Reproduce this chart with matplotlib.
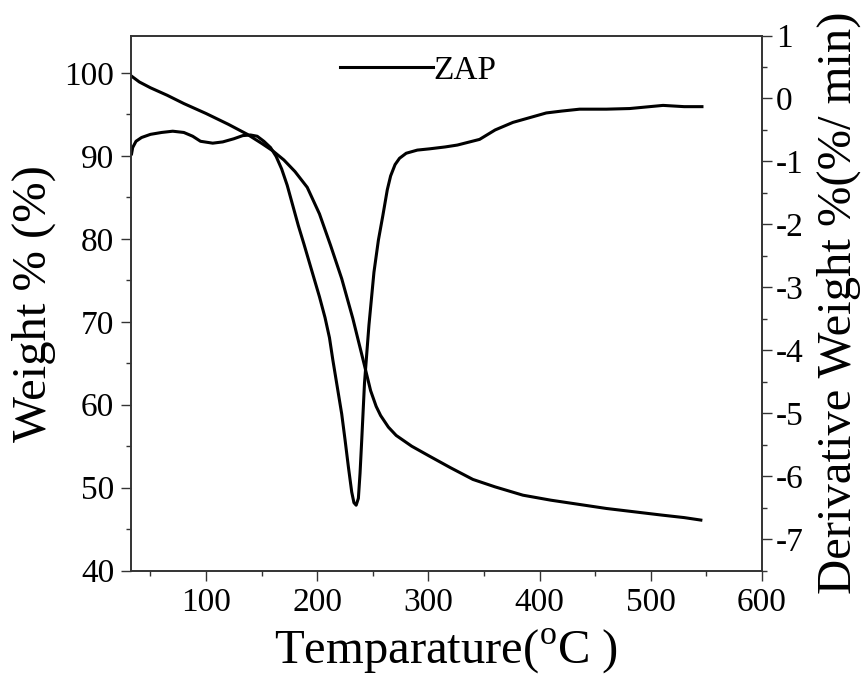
import matplotlib
matplotlib.use("Agg")
import matplotlib.pyplot as plt
from matplotlib.ticker import MultipleLocator

plt.rcParams['font.family'] = ['Liberation Serif', 'DejaVu Serif']
plt.rcParams['mathtext.fontset'] = 'custom'
plt.rcParams['mathtext.rm'] = 'Liberation Serif'
plt.rcParams['axes.unicode_minus'] = False

# TGA curve (left axis)
tga_temp = [33, 40, 50, 65, 80, 100, 120, 137, 150, 160, 170, 180, 191, 202, 212,
            222, 232, 242, 248, 253, 257, 264, 271, 285, 301, 320, 340, 360, 385, 410,
            435, 460, 485, 510, 530, 545]
tga_weight = [99.6, 98.9, 98.2, 97.3, 96.3, 95.1, 93.8, 92.6, 91.5, 90.6, 89.5, 88.1,
              86.2, 83.0, 79.2, 75.2, 70.4, 65.0, 61.7, 59.8, 58.7, 57.3, 56.3, 55.0,
              53.8, 52.4, 51.0, 50.1, 49.1, 48.5, 48.0, 47.5, 47.1, 46.7, 46.4, 46.1]

# DTG curve (right axis)
dtg_temp = [33, 34, 37, 42, 50, 60, 70, 80, 88, 95, 106, 115, 125, 133, 140, 146, 152,
            158, 163, 168, 173, 178, 183, 188, 192, 197, 202, 207, 211, 214, 218, 222,
            225, 228, 231, 233, 235, 237, 238.5, 240, 242.5, 246.5, 251, 255, 259, 263,
            266, 270, 274, 280, 290, 301, 315, 326, 346, 360, 376, 392, 406, 420, 436,
            460, 481, 511, 530, 546]
dtg_deriv = [-0.88, -0.78, -0.68, -0.62, -0.57, -0.54, -0.52, -0.54, -0.60, -0.68, -0.71,
             -0.69, -0.64, -0.59, -0.58, -0.60, -0.68, -0.78, -0.92, -1.12, -1.38, -1.70,
             -2.02, -2.31, -2.55, -2.85, -3.15, -3.48, -3.80, -4.15, -4.58, -5.01, -5.42,
             -5.85, -6.25, -6.42, -6.46, -6.35, -5.95, -5.43, -4.52, -3.60, -2.76, -2.25,
             -1.86, -1.45, -1.23, -1.05, -0.95, -0.87, -0.82, -0.80, -0.77, -0.74, -0.65,
             -0.50, -0.38, -0.30, -0.23, -0.20, -0.17, -0.17, -0.16, -0.11, -0.13, -0.13]

series_label = "ZAP"
x_ticks = [100, 200, 300, 400, 500, 600]
left_ticks = [40, 50, 60, 70, 80, 90, 100]
right_ticks = [-7, -6, -5, -4, -3, -2, -1, 0, 1]

fig = plt.figure(figsize=(8.64, 6.93), dpi=100)
ax = fig.add_axes([131/864, 1-570.7/693, (762-131)/864, (570.7-35.5)/693])
ax2 = ax.twinx()

ln1, = ax.plot(tga_temp, tga_weight, color='black', lw=2.2, label=series_label)
ax2.plot(dtg_temp, dtg_deriv, color='black', lw=2.2)

ax.set_xlim(32.5, 600)
ax.set_ylim(40, 104.5)
ax2.set_ylim(-7.5, 1)

ax.set_xticks(x_ticks)
ax.set_yticks(left_ticks)
ax2.set_yticks(right_ticks)
ax.xaxis.set_minor_locator(MultipleLocator(50))
ax.yaxis.set_minor_locator(MultipleLocator(5))
ax2.yaxis.set_minor_locator(MultipleLocator(0.5))

fs_tick = 24
ax.tick_params(axis='both', which='major', direction='out', length=7, width=1,
               labelsize=fs_tick, pad=5, color='#333333')
ax.tick_params(axis='both', which='minor', direction='out', length=3.5, width=1,
               color='#333333')
ax2.tick_params(axis='y', which='major', direction='out', length=7, width=1,
                labelsize=fs_tick, pad=3, color='#333333')
ax2.tick_params(axis='y', which='minor', direction='out', length=3.5, width=1,
                color='#333333')
ax.tick_params(axis='x', which='both', top=False)

for a in (ax, ax2):
    for s in a.spines.values():
        s.set_color('#333333')
        s.set_linewidth(1.2)

ax.set_xlabel(r'Temparature($^{\mathrm{o}}$C )', fontsize=35, labelpad=6)
ax.set_ylabel('Weight % (%)', fontsize=35, labelpad=6)
ax2.set_ylabel('Derivative Weight %(%/ min)', fontsize=35, labelpad=9)

ax.legend(handles=[ln1], loc='upper center', bbox_to_anchor=(0.455, 1.0),
          frameon=False, fontsize=24, handlelength=2.8, handletextpad=0.0,
          borderaxespad=0.2)

fig.savefig('out.png', dpi=100)
